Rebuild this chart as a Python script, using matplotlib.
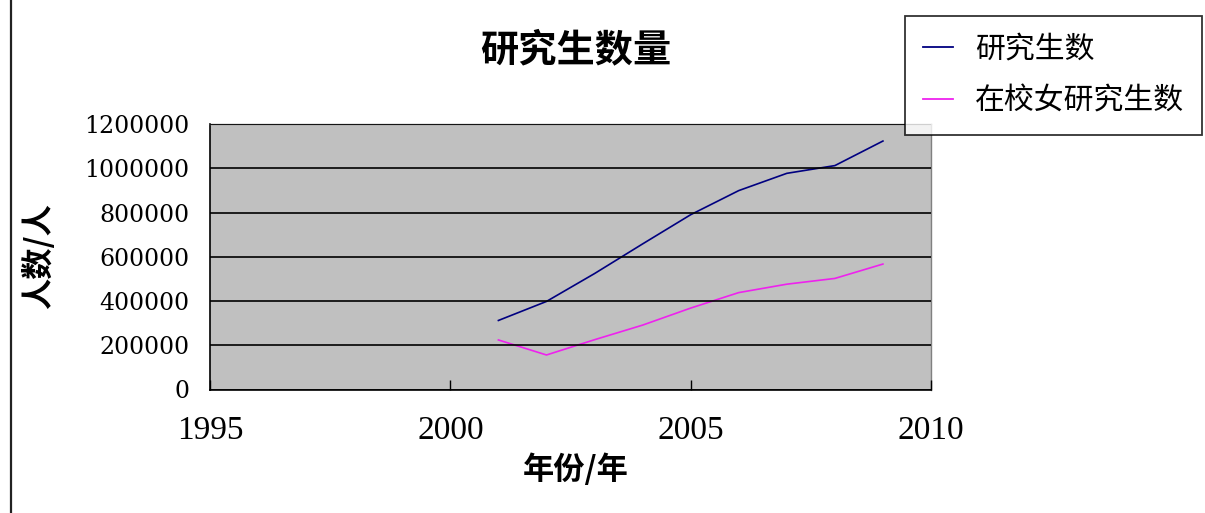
import matplotlib
matplotlib.use('Agg')
import matplotlib.pyplot as plt
from matplotlib.lines import Line2D

cjk = ['Noto Sans CJK SC', 'DejaVu Sans']
plt.rcParams['font.family'] = cjk

# data
years = [2001, 2002, 2003, 2004, 2005, 2006, 2007, 2008, 2009]
total_students = [312000, 398000, 524000, 658000, 790000, 899000, 977000, 1012000, 1123000]
female_students = [224000, 156000, 225000, 291000, 368000, 438000, 476000, 502000, 567000]
series_names = ['研究生数', '在校女研究生数']
x_ticks = [1995, 2000, 2005, 2010]
y_ticks = [0, 200000, 400000, 600000, 800000, 1000000, 1200000]

W, H = 1205, 513
fig = plt.figure(figsize=(W / 100, H / 100), dpi=100)
fig.patch.set_facecolor('white')

ax = fig.add_axes([210 / W, 1 - 389.5 / H, (931 - 210) / W, (389.5 - 124) / H])
ax.set_facecolor('#C0C0C0')

ax.plot(years, total_students, color='#000080', lw=1.2, label=series_names[0])
ax.plot(years, female_students, color='#EE22EE', lw=1.2, label=series_names[1])

ax.set_xlim(1995, 2010)
ax.set_ylim(0, 1200000)
ax.set_xticks(x_ticks)
ax.set_yticks(y_ticks)
ax.set_xticklabels([str(v) for v in x_ticks], family='Liberation Serif', fontsize=24)
ax.set_yticklabels([str(v) for v in y_ticks], family='DejaVu Serif', fontsize=17)
ax.tick_params(axis='x', direction='in', length=7, width=1, pad=19, colors='black')
ax.tick_params(axis='y', length=0, pad=15)
ax.yaxis.grid(True, color='black', lw=1.2)
ax.set_axisbelow(False)

for side in ['left', 'bottom']:
    ax.spines[side].set_color('black')
    ax.spines[side].set_linewidth(1.2)
for side in ['top', 'right']:
    ax.spines[side].set_color('#808080')
    ax.spines[side].set_linewidth(1)

fig.text(576 / W, 1 - 50 / H, '研究生数量', ha='center', va='center',
         fontsize=27.5, fontweight='bold', family=cjk)
fig.text(576 / W, 1 - 470 / H, '年份/年', ha='center', va='center',
         fontsize=22.5, fontweight='bold', family=cjk)
fig.text(39 / W, 1 - 256 / H, '人数/人', ha='center', va='center', rotation=90,
         fontsize=22.5, fontweight='bold', family=cjk)

leg = fig.legend(loc='upper left', bbox_to_anchor=(905 / W, 1 - 16 / H),
                 bbox_transform=fig.transFigure, borderaxespad=0,
                 prop={'family': cjk, 'size': 21.5}, frameon=True, fancybox=False,
                 handlelength=1.0, handletextpad=0.73, borderpad=0.6,
                 labelspacing=0.7)
leg.get_frame().set_edgecolor('black')
leg.get_frame().set_linewidth(1.3)
for line in leg.get_lines():
    line.set_linewidth(1.3)

# left border line of the screenshot
fig.add_artist(Line2D([11 / W, 11 / W], [0, 1], color='#222222', lw=1.6,
                      transform=fig.transFigure))

fig.savefig('out.png', dpi=100, facecolor='white')
